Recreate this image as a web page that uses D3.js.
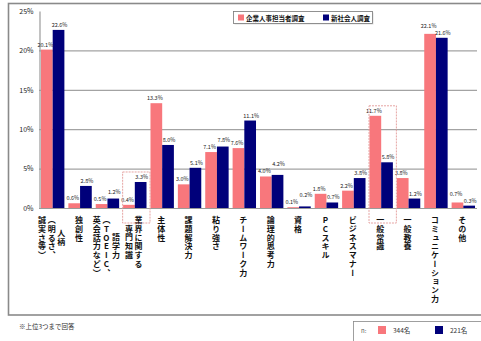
<!DOCTYPE html>
<html>
<head>
<meta charset="utf-8">
<script src="https://cdn.jsdelivr.net/npm/d3@7"></script>
<style>
  html, body { margin: 0; padding: 0; background: #fff; }
  svg { display: block; font-family: "Noto Sans CJK JP", "Noto Sans", sans-serif; }
  .vlabel { writing-mode: vertical-rl; text-orientation: upright; }
</style>
</head>
<body>
<svg id="chart" width="481" height="341"></svg>
<script>
// Category labels; "\n" separates the vertical columns (read right to left)
const categories = [
  "人柄\n（明るさ、\n誠実さ等）",
  "独創性",
  "語学力\n（TOEIC、\n英会話力など）",
  "業界に関する\n専門知識",
  "主体性",
  "課題解決力",
  "粘り強さ",
  "チームワーク力",
  "論理的思考力",
  "資格",
  "PCスキル",
  "ビジネスマナー",
  "一般常識",
  "一般教養",
  "コミュニケーション力",
  "その他"
];
const seriesNames = ["企業人事担当者調査", "新社会人調査"];
const companyValues = [20.1, 0.6, 0.5, 0.4, 13.3, 3.0, 7.1, 7.6, 4.0, 0.1, 1.8, 2.2, 11.7, 3.8, 22.1, 0.7];
const newcomerValues = [22.6, 2.8, 1.2, 3.3, 8.0, 5.1, 7.8, 11.1, 4.2, 0.2, 0.7, 3.8, 5.8, 1.2, 21.6, 0.3];
const sampleSizes = ["344名", "221名"];
const yTicks = [0, 5, 10, 15, 20, 25];
const highlighted = ["業界に関する\n専門知識", "一般常識"];
const footnote = "※上位3つまで回答";

const colors = ["#f8777c", "#00007a"];

const svg = d3.select("#chart");

// outer frame
svg.append("rect")
  .attr("x", 8.5).attr("y", 3.5).attr("width", 478).attr("height", 311.5)
  .attr("fill", "none").attr("stroke", "#8a8a8a").attr("stroke-width", 1.6);

const x0 = d3.scaleBand().domain(categories).range([39, 477]).paddingInner(0).paddingOuter(0);
const x1 = d3.scaleBand().domain([0, 1]).range([0, x0.bandwidth()]).paddingInner(0).paddingOuter(0.17);
const y = d3.scaleLinear().domain([0, 25]).range([208, 11]);

// gridlines
svg.append("g").selectAll("line").data(yTicks.filter(t => t > 0 && t < 25)).join("line")
  .attr("x1", 39).attr("x2", 477)
  .attr("y1", d => y(d) + 0.5).attr("y2", d => y(d) + 0.5)
  .attr("stroke", "#a3a3a3").attr("stroke-width", 1.2);

// y axis
const yAxis = d3.axisLeft(y).tickValues(yTicks).tickFormat(d => d + "%").tickSize(0).tickPadding(6);
const gy = svg.append("g").attr("transform", "translate(39.5,0)").call(yAxis);
gy.select(".domain").attr("stroke", "#9a9a9a").attr("stroke-width", 1.2);
gy.selectAll("text").attr("font-size", 7).attr("fill", "#222")
  .attr("font-family", "Noto Sans CJK JP, sans-serif");

// bars
const rows = categories.map((c, i) => ({ cat: c, vals: [companyValues[i], newcomerValues[i]] }));
const groups = svg.append("g").selectAll("g").data(rows).join("g")
  .attr("transform", d => `translate(${x0(d.cat)},0)`);

groups.selectAll("rect").data(d => d.vals.map((v, k) => ({ v, k }))).join("rect")
  .attr("x", d => x1(d.k))
  .attr("y", d => y(d.v))
  .attr("width", x1.bandwidth())
  .attr("height", d => y(0) - y(d.v))
  .attr("fill", d => colors[d.k]);

// value labels: when the pair would collide, lift the taller bar's label
function labelY(vals, k) {
  const base = vals.map(v => y(v) - 3);
  const other = 1 - k;
  if (Math.abs(base[k] - base[other]) < 7 && vals[k] > vals[other]) {
    return base[other] - 7;
  }
  return base[k];
}
groups.selectAll("text.val").data(d => d.vals.map((v, k) => ({ v, k, vals: d.vals }))).join("text")
  .attr("class", "val")
  .attr("x", d => x1(d.k) + x1.bandwidth() / 2 + (d.k === 0 ? -1.5 : 1))
  .attr("y", d => labelY(d.vals, d.k))
  .attr("text-anchor", "middle")
  .attr("font-size", 5.5)
  .attr("fill", "#222")
  .text(d => d.v.toFixed(1) + "%");

// x axis baseline
svg.append("line")
  .attr("x1", 39).attr("x2", 477).attr("y1", y(0) + 0.5).attr("y2", y(0) + 0.5)
  .attr("stroke", "#9a9a9a").attr("stroke-width", 1.2);

// vertical category labels
const charH = 8.6, colW = 9.6, labelTop = 216;
categories.forEach(cat => {
  const cols = cat.split("\n");
  const maxLen = d3.max(cols, c => c.length);
  const cx = x0(cat) + x0.bandwidth() / 2 - 1;
  cols.forEach((col, j) => {
    const xc = cx + ((cols.length - 1) / 2 - j) * colW;
    const top = labelTop + (maxLen - col.length) / 2 * charH;
    svg.append("text")
      .attr("class", "vlabel")
      .attr("x", xc).attr("y", top)
      .attr("font-size", 8).attr("font-weight", 700)
      .attr("fill", "#111")
      .attr("letter-spacing", 0.8)
      .text(col);
  });
});

// highlight boxes
highlighted.forEach(cat => {
  const i = categories.indexOf(cat);
  const top = y(Math.max(companyValues[i], newcomerValues[i])) - 10;
  svg.append("rect")
    .attr("x", x0(cat) + 1.5).attr("y", top)
    .attr("width", x0.bandwidth()).attr("height", y(0) + 15 - top)
    .attr("fill", "none").attr("stroke", "#e39a98").attr("stroke-width", 0.9)
    .attr("stroke-dasharray", "2,1");
});

// top legend
const lg = svg.append("g").attr("transform", "translate(233,11)");
lg.append("rect").attr("x", 1.5).attr("y", 1.5).attr("width", 139).attr("height", 12).attr("fill", "#ddd");
lg.append("rect").attr("x", 0.5).attr("y", 0.5).attr("width", 139).attr("height", 12)
  .attr("fill", "#fff").attr("stroke", "#777").attr("stroke-width", 0.8);
const legendX = [5, 90];
seriesNames.forEach((name, k) => {
  lg.append("rect").attr("x", legendX[k]).attr("y", 3.5).attr("width", 6).attr("height", 6)
    .attr("fill", colors[k]);
  lg.append("text").attr("x", legendX[k] + 8).attr("y", 9.5)
    .attr("font-size", 6.5).attr("font-weight", 700).attr("fill", "#111").text(name);
});

// footnote
svg.append("text").attr("x", 19).attr("y", 329)
  .attr("font-size", 6.5).attr("fill", "#333").text(footnote);

// sample size legend
const sg = svg.append("g").attr("transform", "translate(353,321)");
sg.append("rect").attr("x", 0.5).attr("y", 0.5).attr("width", 130).attr("height", 21)
  .attr("fill", "#fff").attr("stroke", "#888").attr("stroke-width", 0.8);
sg.append("text").attr("x", 8).attr("y", 12).attr("font-size", 6).attr("fill", "#555").text("n:");
const sx = [25, 82];
sampleSizes.forEach((s, k) => {
  sg.append("rect").attr("x", sx[k]).attr("y", 5).attr("width", 8).attr("height", 8).attr("fill", colors[k]);
  sg.append("text").attr("x", sx[k] + 15).attr("y", 12).attr("font-size", 6.5).attr("fill", "#333").text(s);
});
</script>
</body>
</html>
